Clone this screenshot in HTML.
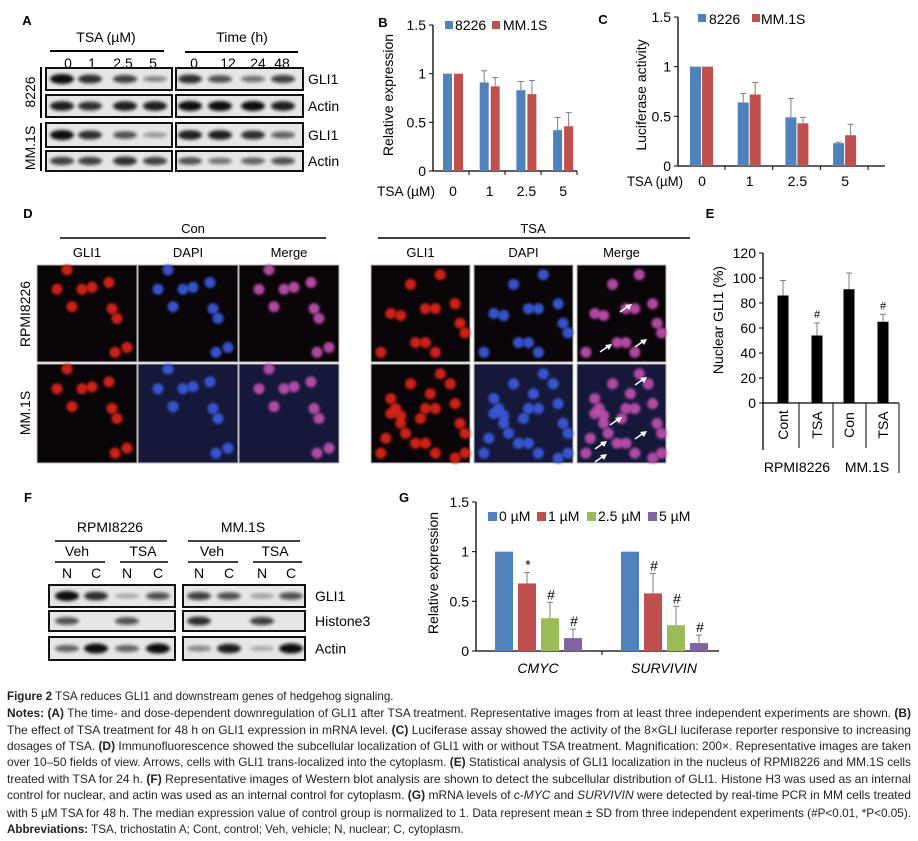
<!DOCTYPE html>
<html><head><meta charset="utf-8"><style>
html,body{margin:0;padding:0;background:#fff;}
svg{display:block;font-family:"Liberation Sans",Arial,sans-serif;}
</style></head><body>
<svg id="fig" width="918" height="841" viewBox="0 0 918 841" xmlns="http://www.w3.org/2000/svg">
<defs>
<filter id="blur1" x="-50%" y="-50%" width="200%" height="200%"><feGaussianBlur stdDeviation="1.6"/></filter>
<filter id="blur2" x="-50%" y="-50%" width="200%" height="200%"><feGaussianBlur stdDeviation="1.2"/></filter>
</defs>
<g id="panelA"></g>
<g id="panelB"></g>
<g id="panelC"></g>
<g id="panelD"></g>
<g id="panelE"></g>
<g id="panelF"></g>
<g id="panelG"></g>
<g id="caption" font-family="'Liberation Sans',sans-serif" font-size="11.6" fill="#231f20">
<text x="7" y="700"><tspan font-weight="bold">Figure 2</tspan> TSA reduces GLI1 and downstream genes of hedgehog signaling.</text>
<text x="7" y="717" textLength="904" lengthAdjust="spacingAndGlyphs"><tspan font-weight="bold">Notes: (A)</tspan> The time- and dose-dependent downregulation of GLI1 after TSA treatment. Representative images from at least three independent experiments are shown. <tspan font-weight="bold">(B)</tspan></text>
<text x="7" y="734" textLength="904" lengthAdjust="spacingAndGlyphs">The effect of TSA treatment for 48 h on GLI1 expression in mRNA level. <tspan font-weight="bold">(C)</tspan> Luciferase assay showed the activity of the 8×GLI luciferase reporter responsive to increasing</text>
<text x="7" y="750" textLength="904" lengthAdjust="spacingAndGlyphs">dosages of TSA. <tspan font-weight="bold">(D)</tspan> Immunofluorescence showed the subcellular localization of GLI1 with or without TSA treatment. Magnification: 200×. Representative images are taken</text>
<text x="7" y="766" textLength="904" lengthAdjust="spacingAndGlyphs">over 10–50 fields of view. Arrows, cells with GLI1 trans-localized into the cytoplasm. <tspan font-weight="bold">(E)</tspan> Statistical analysis of GLI1 localization in the nucleus of RPMI8226 and MM.1S cells</text>
<text x="7" y="783" textLength="904" lengthAdjust="spacingAndGlyphs">treated with TSA for 24 h. <tspan font-weight="bold">(F)</tspan> Representative images of Western blot analysis are shown to detect the subcellular distribution of GLI1. Histone H3 was used as an internal</text>
<text x="7" y="799" textLength="904" lengthAdjust="spacingAndGlyphs">control for nuclear, and actin was used as an internal control for cytoplasm. <tspan font-weight="bold">(G)</tspan> mRNA levels of <tspan font-style="italic">c-MYC</tspan> and <tspan font-style="italic">SURVIVIN</tspan> were detected by real-time PCR in MM cells treated</text>
<text x="7" y="817" textLength="904" lengthAdjust="spacingAndGlyphs">with 5 µM TSA for 48 h. The median expression value of control group is normalized to 1. Data represent mean ± SD from three independent experiments (#P&lt;0.01, *P&lt;0.05).</text>
<text x="7" y="833"><tspan font-weight="bold">Abbreviations:</tspan> TSA, trichostatin A; Cont, control; Veh, vehicle; N, nuclear; C, cytoplasm.</text>
</g>
</svg>
<script>
const NS='http://www.w3.org/2000/svg';
// ---- Panel B data ----
const bCategories=['0','1','2.5','5'];
const b8226=[1,0.91,0.83,0.42];
const b8226Err=[0,0.12,0.09,0.13];
const bMM1S=[1,0.87,0.79,0.46];
const bMM1SErr=[0,0.09,0.14,0.14];
const bTicks=['0','0.5','1','1.5'];
// ---- Panel C data ----
const cCategories=['0','1','2.5','5'];
const c8226=[1,0.64,0.49,0.23];
const c8226Err=[0,0.09,0.19,0.01];
const cMM1S=[1,0.72,0.43,0.31];
const cMM1SErr=[0,0.12,0.06,0.11];
const cTicks=['0','0.5','1','1.5'];
// ---- Panel E data ----
const eCategories=['Cont','TSA','Con','TSA'];
const eValues=[86,54,91,65];
const eErr=[12,10,13,6];
const eMarks=['','#','','#'];
const eTicks=['0','20','40','60','80','100','120'];
// ---- Panel G data ----
const gGenes=['CMYC','SURVIVIN'];
const gSeries=['0 µM','1 µM','2.5 µM','5 µM'];
const gCMYC=[1,0.68,0.33,0.13];
const gCMYCErr=[0,0.11,0.16,0.09];
const gSURVIVIN=[1,0.58,0.26,0.08];
const gSURVIVINErr=[0,0.2,0.19,0.08];
const gCMYCMarks=['','*','#','#'];
const gSURVIVINMarks=['','#','#','#'];
const gTicks=['0','0.5','1','1.5'];

function el(tag,attrs,parent,text){const e=document.createElementNS(NS,tag);for(const k in attrs)e.setAttribute(k,attrs[k]);if(text!==undefined)e.textContent=text;parent.appendChild(e);return e;}
function txt(parent,x,y,s,size,anchor,extra){const t=el('text',Object.assign({x:x,y:y,'font-size':size,'text-anchor':anchor||'middle',fill:'#000'},extra||{}),parent,s);return t;}
const BLUE='#4F81BD',RED='#C0504D',GREEN='#9BBB59',PURPLE='#8064A2';

function yAxis(g,x,yFn,ticks,vals,size){
  el('line',{x1:x,y1:yFn(vals[vals.length-1]),x2:x,y2:yFn(vals[0]),stroke:'#000','stroke-width':1.3},g);
  ticks.forEach((t,i)=>{const y=yFn(vals[i]);el('line',{x1:x-4,y1:y,x2:x,y2:y,stroke:'#000','stroke-width':1},g);
    const l=txt(g,x-7,y+5,t,size,'end');});
}
function errBar(g,x,y0,y1){el('line',{x1:x,y1:y0,x2:x,y2:y1,stroke:'#7f7f7f','stroke-width':1},g);el('line',{x1:x-3,y1:y1,x2:x+3,y2:y1,stroke:'#7f7f7f','stroke-width':1},g);}

// ===== Panel B =====
(function(){
 const g=document.getElementById('panelB');
 const y0=171,top=25,max=1.5; const y=v=>y0-(v/max)*(y0-top);
 const ax=433, xEnd=577, n=bCategories.length, step=(xEnd-ax)/n;
 const cx=i=>453+36.7*i;
 txt(g,383,27,'B',13,'middle',{'font-weight':'bold'});
 yAxis(g,ax,y,bTicks,[0,0.5,1,1.5],14);
 el('line',{x1:ax,y1:y0,x2:xEnd,y2:y0,stroke:'#000','stroke-width':1.3},g);
 for(let i=1;i<=n;i++){el('line',{x1:ax+step*i,y1:y0,x2:ax+step*i,y2:y0+4,stroke:'#000'},g);}
 bCategories.forEach((c,i)=>{
  const b=el('rect',{x:cx(i)-10,y:y(b8226[i]),width:9,height:y0-y(b8226[i]),fill:BLUE},g);
  
  const r=el('rect',{x:cx(i)+1,y:y(bMM1S[i]),width:9,height:y0-y(bMM1S[i]),fill:RED},g);
  
  if(b8226Err[i])errBar(g,cx(i)-5.5,y(b8226[i]),y(b8226[i]+b8226Err[i]));
  if(bMM1SErr[i])errBar(g,cx(i)+5.5,y(bMM1S[i]),y(bMM1S[i]+bMM1SErr[i]));
  const l=txt(g,cx(i),196,c,14);
 });
 const t=txt(g,377,196,'TSA (µM)',14,'start',{textLength:58,lengthAdjust:'spacingAndGlyphs'});
 const yl=txt(g,0,0,'Relative expression',14,'middle',{transform:'translate(393,95) rotate(-90)'});
 el('rect',{x:445,y:21,width:8,height:8,fill:BLUE},g);txt(g,455,30,'8226',14,'start');
 el('rect',{x:492,y:21,width:8,height:8,fill:RED},g);txt(g,503,30,'MM.1S',14,'start');
})();

// ===== Panel C =====
(function(){
 const g=document.getElementById('panelC');
 const y0=166,top=17,max=1.5; const y=v=>y0-(v/max)*(y0-top);
 const ax=678,xEnd=885,n=cCategories.length;
 const cx=i=>701+47.7*i;
 txt(g,603,24,'C',13,'middle',{'font-weight':'bold'});
 yAxis(g,ax,y,cTicks,[0,0.5,1,1.5],14);
 el('line',{x1:ax,y1:y0,x2:xEnd,y2:y0,stroke:'#000','stroke-width':1.3},g);
 for(let i=0;i<n;i++){const tx=cx(i)+24;el('line',{x1:tx,y1:y0,x2:tx,y2:y0+4,stroke:'#000'},g);}
 cCategories.forEach((c,i)=>{
  const b=el('rect',{x:cx(i)-11,y:y(c8226[i]),width:11,height:y0-y(c8226[i]),fill:BLUE},g);
  
  const r=el('rect',{x:cx(i)+1,y:y(cMM1S[i]),width:11,height:y0-y(cMM1S[i]),fill:RED},g);
  
  if(c8226Err[i])errBar(g,cx(i)-5.5,y(c8226[i]),y(c8226[i]+c8226Err[i]));
  if(cMM1SErr[i])errBar(g,cx(i)+6.5,y(cMM1S[i]),y(cMM1S[i]+cMM1SErr[i]));
  const l=txt(g,cx(i)+1,186,c,14);
 });
 const t=txt(g,627,186,'TSA (µM)',14,'start',{textLength:56,lengthAdjust:'spacingAndGlyphs'});
 const yl=txt(g,0,0,'Luciferase activity',14,'middle',{transform:'translate(646,95) rotate(-90)'});
 el('rect',{x:698,y:14,width:8,height:8,fill:BLUE},g);txt(g,709,24,'8226',14,'start');
 el('rect',{x:752,y:14,width:8,height:8,fill:RED},g);txt(g,761,24,'MM.1S',14,'start');
})();

// ===== Panel E =====
(function(){
 const g=document.getElementById('panelE');
 const y0=403,top=253,max=120; const y=v=>y0-(v/max)*(y0-top);
 const ax=763;
 const centers=[783,817,849,883];
 txt(g,710,218,'E',13,'middle',{'font-weight':'bold'});
 yAxis(g,ax,y,eTicks,[0,20,40,60,80,100,120],14);
 el('line',{x1:ax,y1:y0,x2:899,y2:y0,stroke:'#000','stroke-width':1.3},g);
 el('line',{x1:ax,y1:y0,x2:ax,y2:450,stroke:'#000','stroke-width':1.3},g);
 [799,833,866].forEach(x=>el('line',{x1:x,y1:y0,x2:x,y2:448,stroke:'#000','stroke-width':1},g));
 el('line',{x1:899,y1:y0,x2:899,y2:473,stroke:'#000','stroke-width':1},g);
 eCategories.forEach((c,i)=>{
  const b=el('rect',{x:centers[i]-5.5,y:y(eValues[i]),width:11,height:y0-y(eValues[i]),fill:'#000'},g);
  
  errBar(g,centers[i],y(eValues[i]),y(eValues[i]+eErr[i]));
  if(eMarks[i])txt(g,centers[i],y(eValues[i]+eErr[i])-5,eMarks[i],11);
  const l=txt(g,0,0,c,14,'middle',{transform:'translate('+(centers[i]+5)+',425) rotate(-90)'});
 });
 txt(g,797,472,'RPMI8226',14);txt(g,867,472,'MM.1S',14);
 const yl=txt(g,0,0,'Nuclear GLI1 (%)',14,'middle',{transform:'translate(723,320) rotate(-90)'});
})();

// ===== Panel G =====
(function(){
 const g=document.getElementById('panelG');
 const y0=651,top=502,max=1.5; const y=v=>y0-(v/max)*(y0-top);
 const ax=476,xEnd=719;
 const colors=[BLUE,RED,GREEN,PURPLE];
 const groupStart=[504,630]; const gap=23;
 txt(g,404,502,'G',13,'middle',{'font-weight':'bold'});
 yAxis(g,ax,y,gTicks,[0,0.5,1,1.5],14);
 el('line',{x1:ax,y1:y0,x2:xEnd,y2:y0,stroke:'#000','stroke-width':1.3},g);
 el('line',{x1:602,y1:y0,x2:602,y2:y0+4,stroke:'#000'},g);
 const data=[[gCMYC,gCMYCErr,gCMYCMarks],[gSURVIVIN,gSURVIVINErr,gSURVIVINMarks]];
 gGenes.forEach((gene,gi)=>{
  const [v,e,m]=data[gi];
  v.forEach((val,i)=>{
   const cx=groupStart[gi]+gap*i;
   const b=el('rect',{x:cx-9,y:y(val),width:18,height:y0-y(val),fill:colors[i]},g);
   
   if(e[i])errBar(g,cx,y(val),y(val+e[i]));
   if(m[i])txt(g,cx+1,y(val+e[i])-3,m[i],14);
  });
  const l=txt(g,groupStart[gi]+34,673,gene,14,'middle',{'font-style':'italic'});
 });
 const lx=[488,537,587,648];
 gSeries.forEach((s,i)=>{el('rect',{x:lx[i],y:512,width:9,height:9,fill:colors[i]},g);
  const t=txt(g,lx[i]+11,521,s,14,'start');});
 const yl=txt(g,0,0,'Relative expression',14,'middle',{transform:'translate(438,573) rotate(-90)'});
})();

function blot(g,x,y,w,h,bands,name){
 const b=el('rect',{x:x,y:y,width:w,height:h,fill:'#e6e6e6',stroke:'#111','stroke-width':2},g);
 
 bands.forEach(bd=>{ if(bd[2]<=0)return; el('ellipse',{cx:bd[0],cy:y+h/2,rx:bd[1],ry:2+bd[2]*3,fill:'#111','fill-opacity':Math.min(1,0.25+bd[2]*0.75),filter:'url(#blur1)'},g);});
}
// ===== Panel A =====
(function(){
 const g=document.getElementById('panelA');
 txt(g,27,25,'A',13,'middle',{'font-weight':'bold'});
 txt(g,106,42,'TSA (µM)',14);txt(g,242,42,'Time (h)',14);
 el('line',{x1:50,y1:51,x2:164,y2:51,stroke:'#000','stroke-width':2},g);
 el('line',{x1:185,y1:52,x2:298,y2:52,stroke:'#000','stroke-width':2},g);
 const lx=[68,92,123,153],rx=[194,228,258,282];
 ['0','1','2.5','5'].forEach((s,i)=>txt(g,lx[i],68,s,14));
 ['0','12','24','48'].forEach((s,i)=>txt(g,rx[i],68,s,14));
 const rows=[[68,22,'GLI1',[1,0.8,0.7,0.3],[0.8,0.6,0.4,0.7]],[95,22,'Actin',[0.9,0.8,0.9,0.9],[1,1,1,0.9]],[123,24,'GLI1',[1,0.8,0.6,0.2],[0.9,0.9,0.8,0.5]],[151,20,'Actin',[0.7,0.7,0.8,0.7],[0.6,0.4,0.5,0.6]]];
 const bl=[62,90,125,155],br=[190,220,253,283];
 rows.forEach(r=>{
  blot(g,46,r[0],126,r[1],bl.map((c,i)=>[c,12,r[3][i]]),'blot-left-'+r[2].toLowerCase());
  blot(g,176,r[0],127,r[1],br.map((c,i)=>[c,12,r[4][i]]),'blot-right-'+r[2].toLowerCase());
  txt(g,308,r[0]+r[1]/2+5,r[2],14,'start');
 });
 el('line',{x1:41,y1:67,x2:41,y2:118,stroke:'#000','stroke-width':2},g);
 el('line',{x1:41,y1:123,x2:41,y2:171,stroke:'#000','stroke-width':2},g);
 txt(g,0,0,'8226',14,'middle',{transform:'translate(35,92) rotate(-90)'});
 txt(g,0,0,'MM.1S',14,'middle',{transform:'translate(35,148) rotate(-90)'});
})();
// ===== Panel F =====
(function(){
 const g=document.getElementById('panelF');
 txt(g,28,502,'F',13,'middle',{'font-weight':'bold'});
 txt(g,110,532,'RPMI8226',14);txt(g,243,532,'MM.1S',14);
 [[55,167,541],[188,300,541],[55,105,562],[120,168,562],[188,238,562],[253,302,562]].forEach(l=>el('line',{x1:l[0],y1:l[2],x2:l[1],y2:l[2],stroke:'#000','stroke-width':1.5},g));
 [[77,'Veh'],[143,'TSA'],[212,'Veh'],[275,'TSA']].forEach(t=>txt(g,t[0],556,t[1],14));
 const lxL=[67,96,127,158],lxR=[199,229,262,291];
 lxL.concat(lxR).forEach((x,i)=>txt(g,x,578,i%2?'C':'N',14));
 const rows=[[585,22,'GLI1',[1,0.8,0.1,0.6],[0.7,0.6,0.15,0.6]],[611,20,'Histone3',[0.6,0,0.6,0],[0.8,0,0.7,0]],[637,23,'Actin',[0.5,1,0.5,1],[0.3,0.9,0.1,1]]];
 rows.forEach(r=>{
  blot(g,49,r[0],126,r[1],lxL.map((c,i)=>[c,12,r[3][i]]),'blot-rpmi8226-'+r[2].toLowerCase());
  blot(g,183,r[0],122,r[1],lxR.map((c,i)=>[c,12,r[4][i]]),'blot-mm1s-'+r[2].toLowerCase());
  txt(g,315,r[0]+r[1]/2+5,r[2],14,'start');
 });
})();
// ===== Panel D =====
(function(){
 const g=document.getElementById('panelD');
 txt(g,28,218,'D',13,'middle',{'font-weight':'bold'});
 txt(g,193,233,'Con',13);txt(g,533,233,'TSA',13);
 el('line',{x1:60,y1:238,x2:326,y2:238,stroke:'#000','stroke-width':1.5},g);
 el('line',{x1:378,y1:238,x2:690,y2:238,stroke:'#000','stroke-width':1.5},g);
 const colsL=[[37,100],[138,100],[239,100]],colsR=[[371,99],[474,99],[577,89]];
 const heads=['GLI1','DAPI','Merge'];
 colsL.forEach((c,i)=>txt(g,c[0]+c[1]/2,257,heads[i],13));
 colsR.forEach((c,i)=>txt(g,c[0]+c[1]/2,257,heads[i],13));
 const rowsY=[[265,97],[364,99]];
 const cellsCon=[[0.3,0.05],[0.2,0.25],[0.45,0.25],[0.55,0.23],[0.72,0.18],[0.35,0.43],[0.75,0.45],[0.8,0.55],[0.9,0.85],[0.78,0.9]];
 const cellsTSA=[[0.4,0.2],[0.7,0.1],[0.2,0.5],[0.3,0.52],[0.55,0.45],[0.65,0.45],[0.85,0.4],[0.9,0.6],[0.95,0.7],[0.45,0.8],[0.55,0.8],[0.65,0.9],[0.1,0.9]];
 const cellsTSA2=cellsTSA.concat([[0.2,0.35],[0.25,0.45],[0.3,0.6],[0.35,0.7],[0.15,0.75],[0.6,0.3],[0.8,0.2],[0.85,0.95],[0.95,0.9],[0.5,0.55]]);
 const colorSet=[['#e0241a','#000'],['#3b5be0','#000'],['#c24fb0','#000']];
 function panel(x,y,w,h,cells,ci,bg,name){
  const r=el('rect',{x:x,y:y,width:w,height:h,fill:bg,stroke:'#bbb','stroke-width':1},g);
  
  cells.forEach(c=>el('circle',{cx:x+c[0]*w,cy:y+c[1]*h,r:5.5,fill:colorSet[ci][0],filter:'url(#blur2)','fill-opacity':0.9},g));
 }
 [['con',colsL,cellsCon,cellsCon],['tsa',colsR,cellsTSA,cellsTSA2]].forEach(set=>{
  set[1].forEach((c,ci)=>{
   panel(c[0],rowsY[0][0],c[1],rowsY[0][1],set[2],ci,'#0a0508','if-'+set[0]+'-rpmi8226-'+heads[ci].toLowerCase());
   panel(c[0],rowsY[1][0],c[1],rowsY[1][1],set[3],ci,ci===0?'#0a0508':'#15183a','if-'+set[0]+'-mm1s-'+heads[ci].toLowerCase());
  });
 });
 [[630,305],[610,345],[645,340],[645,378],[620,418],[645,432],[628,468],[630,478],[605,442],[605,455]].forEach(a=>{
  el('line',{x1:a[0]-10,y1:a[1]+7,x2:a[0],y2:a[1],stroke:'#fff','stroke-width':1.5},g);
  el('polygon',{points:(a[0]+2)+','+(a[1]-1)+' '+(a[0]-5)+','+(a[1])+' '+(a[0]-1)+','+(a[1]+5),fill:'#fff'},g);
 });
 txt(g,0,0,'RPMI8226',14,'middle',{transform:'translate(30,314) rotate(-90)'});
 txt(g,0,0,'MM.1S',14,'middle',{transform:'translate(30,413) rotate(-90)'});
})();
</script>
</body></html>
